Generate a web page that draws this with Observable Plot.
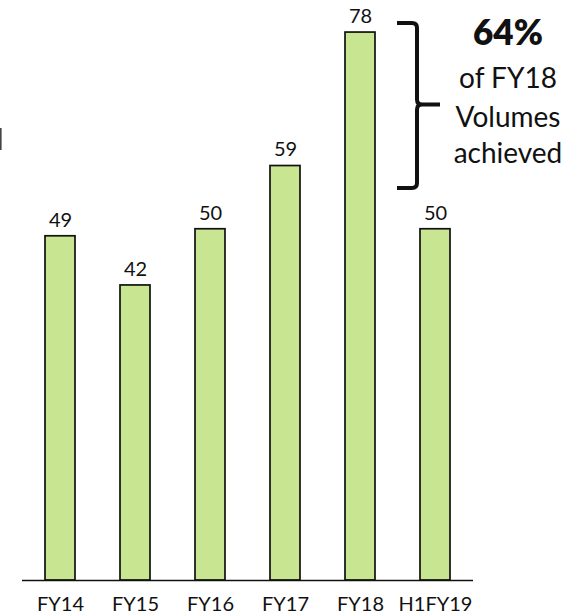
<!DOCTYPE html>
<html>
<head>
<meta charset="utf-8">
<script src="https://cdn.jsdelivr.net/npm/d3@7"></script>
<script src="https://cdn.jsdelivr.net/npm/@observablehq/plot@0.6"></script>
<style>
  html, body { margin: 0; padding: 0; background: #fff; }
  #chart svg { display: block; }
</style>
</head>
<body>
<div id="chart"></div>
<script>
// Data
const periods = ["FY14", "FY15", "FY16", "FY17", "FY18", "H1FY19"];
const volumes = [49, 42, 50, 59, 78, 50];
const annotationLines = ["64%", "of FY18", "Volumes", "achieved"];
const bracketValues = [79.3, 67.7, 55.8]; // top, nub, bottom (data units)

const data = periods.map((p, i) => ({period: p, value: volumes[i]}));

const FONT = "Lato, 'Open Sans', sans-serif";
const W = 582, H = 614;

const plot = Plot.plot({
  width: W,
  height: H,
  marginLeft: 22,
  marginRight: 109,
  marginTop: 18,
  marginBottom: 34,
  style: {fontFamily: FONT, background: "#fff", color: "#111"},
  x: {domain: periods, paddingInner: 0.6, paddingOuter: 0.3, label: null},
  y: {domain: [0, 80], axis: null},
  marks: [
    Plot.barY(data, {x: "period", y: "value", fill: "#c8e592", stroke: "#111", strokeWidth: 1.7}),
    Plot.ruleY([0], {stroke: "#111", strokeWidth: 1.7}),
    Plot.text(data, {x: "period", y: "value", text: d => String(d.value), dy: -16, lineAnchor: "middle", fontSize: 20, fill: "#111"}),
    Plot.axisX({tickSize: 0, tickPadding: 16, fontSize: 20, fill: "#111", label: null})
  ]
});

document.getElementById("chart").appendChild(plot);

const svg = d3.select(plot);
const xs = plot.scale("x");
const ys = plot.scale("y");
const cx = xs.apply("FY18") + xs.bandwidth / 2;
const yTop = ys.apply(bracketValues[0]);
const yMid = ys.apply(bracketValues[1]);
const yBot = ys.apply(bracketValues[2]);
const x0 = cx + 37, x1 = cx + 57, xn = cx + 80, r = 5;

const path = `M${x0},${yTop} H${x1 - r} Q${x1},${yTop} ${x1},${yTop + r} V${yMid - r} Q${x1},${yMid} ${x1 + r},${yMid} H${xn}` +
             ` M${x1 + r},${yMid} Q${x1},${yMid} ${x1},${yMid + r} V${yBot - r} Q${x1},${yBot} ${x1 - r},${yBot} H${x0}`;
svg.append("path").attr("d", path).attr("fill", "none").attr("stroke", "#111").attr("stroke-width", 4);

// Annotation text
const tx = cx + 148;
const tys = [31, 77, 116, 152];
annotationLines.forEach((t, i) => {
  svg.append("text")
    .attr("x", tx).attr("y", tys[i])
    .attr("text-anchor", "middle")
    .attr("dominant-baseline", "central")
    .attr("font-family", FONT)
    .attr("font-size", i === 0 ? 35 : 28)
    .attr("font-weight", i === 0 ? 800 : 400)
    .attr("fill", "#111")
    .text(t);
});

// small cut-off mark at the left edge
svg.append("line").attr("x1", 0.8).attr("x2", 0.8).attr("y1", 128).attr("y2", 150)
  .attr("stroke", "#444").attr("stroke-width", 1.6);
</script>
</body>
</html>
